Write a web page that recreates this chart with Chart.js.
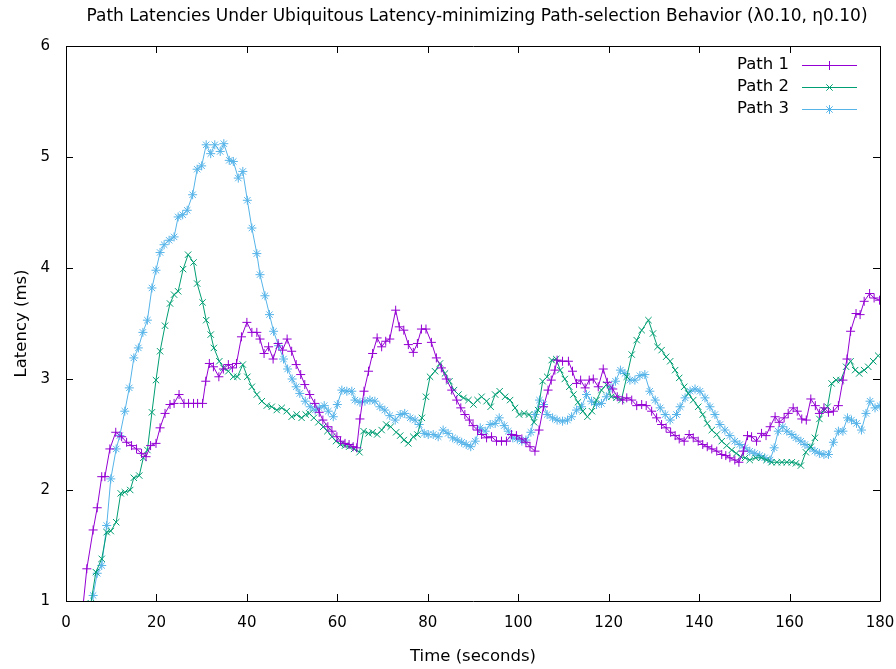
<!DOCTYPE html>
<html><head><meta charset="utf-8">
<script src="https://cdn.jsdelivr.net/npm/chart.js@4/dist/chart.umd.min.js"></script>
<style>html,body{margin:0;padding:0;background:#fff}#wrap{width:896px;height:669px}</style>
</head><body><div id="wrap"><canvas id="c" width="896" height="669"></canvas></div>
<script>
const titleText = "Path Latencies Under Ubiquitous Latency-minimizing Path-selection Behavior (\u03bb0.10, \u03b70.10)";
const xLabel = "Time (seconds)";
const yLabel = "Latency (ms)";
const seriesNames = ["Path 1", "Path 2", "Path 3"];
const xTicks = [0,20,40,60,80,100,120,140,160,180];
const yTicks = [1,2,3,4,5,6];

const p1T = [3.5,4.6,6.0,6.9,7.9,8.6,9.7,11.0,12.3,13.4,14.5,15.6,16.7,17.7,18.7,19.9,20.8,21.9,23.0,23.9,25.0,26.1,27.1,28.2,29.1,30.2,30.9,31.7,32.6,33.8,34.8,35.9,36.8,37.7,38.8,40.0,41.1,42.2,42.9,43.8,44.8,45.8,46.9,47.9,48.9,49.9,50.9,51.9,52.8,53.9,55.0,56.0,56.8,57.9,58.8,59.9,60.7,61.7,62.6,63.5,64.3,65.0,65.9,66.9,67.8,68.8,69.8,70.7,71.6,72.9,73.7,74.7,75.7,76.8,77.7,78.6,79.6,80.8,81.9,83.0,84.1,85.3,86.4,87.3,88.2,89.2,90.0,91.0,91.9,93.0,94.1,95.2,96.3,97.4,98.5,99.6,100.8,101.7,102.6,103.7,104.6,105.6,106.6,107.3,108.1,108.6,109.8,111.1,112.0,112.9,113.8,114.8,115.7,116.6,117.7,118.8,119.7,120.9,121.9,123.1,124.0,125.1,126.2,127.3,128.3,129.5,130.6,131.7,132.7,133.7,134.7,135.6,136.7,137.8,138.7,139.8,140.8,141.8,142.8,143.9,145.0,145.9,146.8,147.9,148.8,149.8,150.7,151.6,152.7,153.8,154.8,155.7,156.8,157.7,158.8,159.7,160.8,161.7,162.7,163.7,164.7,165.7,166.6,167.6,168.6,169.7,170.8,171.8,172.7,173.5,174.7,175.6,176.5,177.7,178.7,179.9];
const p1V = [0.85,1.29,1.64,1.84,2.12,2.12,2.37,2.52,2.48,2.43,2.40,2.37,2.33,2.30,2.40,2.42,2.56,2.69,2.77,2.78,2.86,2.78,2.78,2.78,2.78,2.78,2.98,3.14,3.11,3.02,3.09,3.13,3.10,3.14,3.38,3.51,3.42,3.42,3.36,3.23,3.29,3.18,3.32,3.26,3.36,3.25,3.13,3.04,2.95,2.86,2.78,2.70,2.63,2.57,2.53,2.48,2.44,2.42,2.41,2.39,2.38,2.64,2.89,3.07,3.23,3.37,3.29,3.34,3.36,3.62,3.47,3.44,3.31,3.24,3.32,3.45,3.45,3.33,3.19,3.10,3.00,2.90,2.81,2.74,2.68,2.63,2.58,2.54,2.50,2.47,2.48,2.44,2.44,2.44,2.50,2.49,2.46,2.43,2.39,2.35,2.54,2.75,2.90,2.99,3.08,3.17,3.16,3.16,3.07,2.96,2.99,2.92,2.99,3.00,2.93,3.09,2.97,2.91,2.84,2.81,2.83,2.81,2.76,2.77,2.76,2.71,2.65,2.59,2.56,2.52,2.49,2.46,2.44,2.50,2.47,2.44,2.41,2.39,2.37,2.35,2.32,2.31,2.29,2.27,2.25,2.35,2.49,2.48,2.44,2.51,2.49,2.57,2.66,2.61,2.65,2.69,2.74,2.71,2.64,2.63,2.82,2.76,2.69,2.74,2.70,2.71,2.76,2.99,3.18,3.43,3.59,3.58,3.70,3.77,3.73,3.71];

const p2T = [5.5,6.6,7.9,9.0,9.9,11.1,12.1,13.0,14.2,15.0,16.2,17.1,18.0,19.0,19.9,20.8,21.9,23.0,23.9,24.8,25.9,27.0,28.2,29.0,30.2,31.0,32.0,32.7,33.9,34.8,35.9,37.0,37.9,39.1,40.1,41.1,42.2,43.3,44.4,45.5,46.6,47.7,48.8,49.9,51.0,52.1,53.0,53.8,54.8,55.8,56.9,57.8,58.8,59.7,60.7,61.7,62.6,63.7,64.9,65.8,66.9,67.8,68.8,69.8,70.8,71.8,73.0,73.9,74.7,75.7,76.8,77.7,78.7,79.6,80.5,81.6,82.7,83.8,84.8,85.8,86.8,87.9,89.0,90.1,91.0,91.9,93.0,93.9,94.9,95.9,97.1,98.2,99.3,100.2,101.3,102.4,103.5,104.4,105.4,106.4,107.4,108.4,109.3,110.3,111.3,112.2,113.2,114.3,115.3,116.3,117.3,118.4,119.5,120.6,121.7,122.8,124.0,125.1,126.2,127.3,128.8,129.8,130.8,131.7,132.7,133.6,134.7,135.6,136.7,137.6,138.7,139.8,140.8,141.8,142.8,143.9,145.0,146.1,147.2,148.2,149.2,150.2,151.2,152.5,153.8,154.9,156.0,157.2,158.3,159.4,160.5,161.4,162.5,163.6,164.7,165.6,166.6,167.6,168.4,169.3,170.3,171.3,172.5,173.5,174.5,175.4,176.5,177.4,178.5,179.6];
const p2V = [0.98,1.26,1.38,1.62,1.63,1.71,1.97,1.98,2.00,2.11,2.13,2.29,2.36,2.70,2.99,3.25,3.48,3.68,3.76,3.79,3.99,4.12,4.05,3.86,3.69,3.53,3.40,3.28,3.16,3.10,3.07,3.02,3.02,3.13,3.02,2.93,2.86,2.80,2.76,2.75,2.72,2.74,2.71,2.66,2.68,2.65,2.68,2.69,2.65,2.61,2.57,2.53,2.48,2.44,2.41,2.40,2.39,2.37,2.34,2.53,2.51,2.52,2.50,2.54,2.59,2.57,2.52,2.49,2.45,2.42,2.48,2.50,2.65,2.84,3.02,3.07,3.14,3.05,2.98,2.90,2.86,2.83,2.81,2.77,2.81,2.84,2.80,2.75,2.86,2.89,2.84,2.81,2.74,2.68,2.69,2.68,2.61,2.72,2.98,3.02,3.17,3.18,3.08,3.00,2.93,2.86,2.79,2.71,2.66,2.71,2.81,2.90,2.95,2.84,2.83,2.81,3.02,3.22,3.35,3.44,3.53,3.41,3.29,3.26,3.20,3.16,3.08,3.01,2.93,2.87,2.81,2.75,2.68,2.60,2.54,2.50,2.44,2.40,2.36,2.33,2.30,2.29,2.27,2.29,2.29,2.27,2.25,2.25,2.25,2.25,2.25,2.24,2.22,2.34,2.39,2.47,2.64,2.72,2.75,2.96,2.99,2.99,3.11,3.16,3.08,3.05,3.08,3.11,3.16,3.21];

const p3T = [5.3,6.0,6.9,7.9,9.0,9.9,11.1,11.9,13.0,14.0,15.0,16.0,17.0,18.0,19.0,19.9,20.8,21.7,22.8,23.9,24.8,25.8,26.8,28.0,29.0,30.0,31.0,32.0,32.9,34.1,34.9,36.1,37.0,38.1,39.1,40.1,41.1,42.2,42.9,44.0,45.0,45.9,47.0,48.1,49.0,50.0,50.9,51.7,52.9,54.0,55.1,56.0,57.1,58.0,59.1,60.0,61.0,62.1,63.2,63.9,65.0,66.1,67.2,68.3,69.4,70.5,71.6,72.8,73.9,74.9,76.1,77.2,78.1,79.2,80.1,81.2,82.3,83.4,84.5,85.5,86.5,87.5,88.5,89.5,90.5,91.6,92.7,93.8,94.9,95.8,96.9,97.8,98.8,99.8,100.8,101.7,102.8,103.7,104.7,105.6,106.4,107.6,108.6,109.8,110.9,111.8,112.9,114.0,115.1,116.2,117.3,118.4,119.5,120.5,121.5,122.6,123.6,124.7,125.8,126.9,128.0,129.1,130.3,131.4,132.5,133.6,135.0,135.8,136.9,138.0,139.1,140.2,141.3,142.4,143.5,144.6,145.7,146.8,147.9,149.0,150.1,151.2,152.3,153.4,154.5,155.7,156.6,157.5,158.5,159.4,160.5,161.4,162.5,163.4,164.5,165.6,166.6,167.6,168.6,169.7,170.8,171.8,172.8,173.7,174.8,175.9,176.9,177.8,178.9,180.0];
const p3V = [0.95,1.05,1.25,1.32,1.68,2.10,2.37,2.49,2.71,2.92,3.19,3.28,3.42,3.53,3.82,3.98,4.14,4.21,4.25,4.28,4.46,4.48,4.52,4.66,4.89,4.92,5.11,5.03,5.11,5.05,5.12,4.97,4.96,4.81,4.87,4.61,4.36,4.13,3.94,3.75,3.58,3.43,3.30,3.18,3.09,3.00,2.93,2.87,2.80,2.75,2.72,2.74,2.76,2.71,2.66,2.77,2.90,2.89,2.89,2.81,2.79,2.80,2.81,2.80,2.75,2.72,2.67,2.63,2.68,2.69,2.65,2.63,2.59,2.51,2.50,2.50,2.48,2.54,2.51,2.47,2.45,2.43,2.41,2.39,2.44,2.56,2.53,2.59,2.60,2.65,2.58,2.53,2.47,2.46,2.44,2.45,2.52,2.68,2.81,2.77,2.68,2.65,2.63,2.62,2.63,2.66,2.72,2.75,2.86,2.80,2.77,2.78,2.84,2.92,2.98,3.08,3.05,2.99,2.99,3.03,3.04,2.89,2.81,2.74,2.68,2.63,2.68,2.75,2.83,2.89,2.91,2.89,2.83,2.75,2.68,2.59,2.54,2.49,2.44,2.41,2.38,2.35,2.33,2.31,2.29,2.27,2.38,2.53,2.57,2.53,2.50,2.47,2.44,2.41,2.38,2.35,2.33,2.32,2.32,2.43,2.53,2.53,2.65,2.63,2.60,2.54,2.69,2.80,2.74,2.76];

const colors = ["#9400d3", "#009e73", "#56b4e9"];
const styles = ["cross", "crossRot", "star"];
const FONT = "'DejaVu Sans', sans-serif";

function pts(T, V) { return T.map((t, i) => ({ x: t, y: V[i] })); }
const allT = [p1T, p2T, p3T], allV = [p1V, p2V, p3V];

const datasets = seriesNames.map((n, i) => ({
  label: n,
  data: pts(allT[i], allV[i]),
  borderColor: colors[i],
  backgroundColor: colors[i],
  borderWidth: 1,
  pointStyle: styles[i],
  pointRadius: 4.5,
  pointBorderWidth: 1,
  pointBorderColor: colors[i],
  pointHoverRadius: 4.5,
  tension: 0,
  fill: false
}));

const decor = {
  id: 'decor',
  afterDraw(chart) {
    const ctx = chart.ctx, a = chart.chartArea;
    const xs = chart.scales.x, ys = chart.scales.y;
    ctx.save();
    ctx.strokeStyle = '#000';
    ctx.lineWidth = 1;
    ctx.beginPath();
    ctx.rect(Math.round(a.left) + 0.5, Math.round(a.top) + 0.5, Math.round(a.right - a.left), Math.round(a.bottom - a.top));
    const TL = 7;
    xTicks.forEach(v => {
      const p = Math.round(xs.getPixelForValue(v)) + 0.5;
      ctx.moveTo(p, a.bottom); ctx.lineTo(p, a.bottom - TL);
      ctx.moveTo(p, a.top); ctx.lineTo(p, a.top + TL);
    });
    yTicks.forEach(v => {
      const p = Math.round(ys.getPixelForValue(v)) + 0.5;
      ctx.moveTo(a.left, p); ctx.lineTo(a.left + TL, p);
      ctx.moveTo(a.right, p); ctx.lineTo(a.right - TL, p);
    });
    ctx.stroke();
    // texts
    ctx.fillStyle = '#000';
    ctx.textAlign = 'center';
    ctx.textBaseline = 'middle';
    ctx.font = '17px ' + FONT;
    ctx.fillText(titleText, (a.left + a.right) / 2 + 4, 17);
    ctx.font = '16.5px ' + FONT;
    ctx.fillText(xLabel, (a.left + a.right) / 2, 657);
    ctx.save();
    ctx.translate(22, (a.top + a.bottom) / 2);
    ctx.rotate(-Math.PI / 2);
    ctx.fillText(yLabel, 0, 0);
    ctx.restore();
    // legend
    seriesNames.forEach((n, i) => {
      const y = 65 + i * 22;
      ctx.fillStyle = '#000';
      ctx.textAlign = 'right';
      ctx.fillText(n, 789, y);
      ctx.strokeStyle = colors[i];
      ctx.lineWidth = 1;
      ctx.beginPath();
      ctx.moveTo(802, y + 0.5); ctx.lineTo(857, y + 0.5);
      ctx.stroke();
      Chart.helpers.drawPoint(ctx, { pointStyle: styles[i], radius: 4.5, borderWidth: 1 }, 829.5, y + 0.5);
    });
    ctx.restore();
  }
};

new Chart(document.getElementById('c'), {
  type: 'line',
  data: { datasets },
  options: {
    responsive: false,
    animation: false,
    devicePixelRatio: 1,
    layout: { padding: { top: 46, right: 16, left: 0, bottom: 0 } },
    plugins: { legend: { display: false }, title: { display: false }, tooltip: { enabled: false } },
    scales: {
      x: {
        type: 'linear', min: 0, max: 180,
        afterFit(s) { s.height = 68; s.paddingLeft = 0; s.paddingRight = 0; },
        afterBuildTicks(s) { s.ticks = xTicks.map(v => ({ value: v })); },
        grid: { display: false, drawTicks: false },
        border: { display: false },
        ticks: { padding: 13, color: '#000', font: { family: FONT, size: 15 }, maxRotation: 0 }
      },
      y: {
        type: 'linear', min: 1, max: 6,
        afterFit(s) { s.width = 66; s.paddingTop = 0; s.paddingBottom = 0; },
        afterBuildTicks(s) { s.ticks = yTicks.map(v => ({ value: v })); },
        grid: { display: false, drawTicks: false },
        border: { display: false },
        ticks: { padding: 16, color: '#000', font: { family: FONT, size: 15 } }
      }
    }
  },
  plugins: [decor]
});
</script></body></html>
